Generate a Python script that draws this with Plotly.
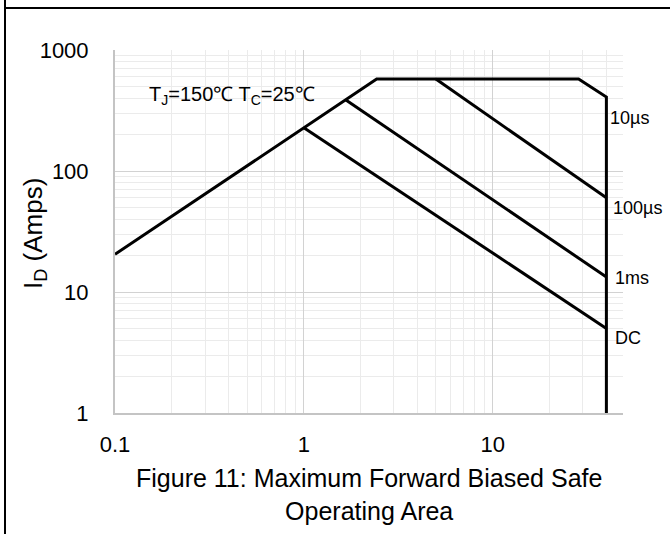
import plotly.graph_objects as go

# ---- data ----
# Safe-operating-area boundary (R_DS(on) ramp, current limit, 10 µs power line, BV_DSS limit)
boundary_v = [0.1, 2.43, 28.5, 40, 40]
boundary_i = [20.5, 575, 575, 409, 1]
# Pulse / DC limit lines
dc_v = [1.0, 40]
dc_i = [228, 5.0]
ms1_v = [1.67, 40]
ms1_i = [386, 13.3]
us100_v = [5.0, 40]
us100_i = [575, 60]

x_tickvals = [0.1, 1, 10]
x_ticktext = ["0.1", "1", "10"]
y_tickvals = [1, 10, 100, 1000]
y_ticktext = ["1", "10", "100", "1000"]

curve_labels = ["10µs", "100µs", "1ms", "DC"]

FONT = "Liberation Sans"

fig = go.Figure()
for xs, ys in [(boundary_v, boundary_i), (dc_v, dc_i), (ms1_v, ms1_i), (us100_v, us100_i)]:
    fig.add_trace(go.Scatter(x=xs, y=ys, mode="lines",
                             line=dict(color="black", width=3),
                             showlegend=False, hoverinfo="skip"))

W, H = 670, 534
L, R, T, B = 115, 47, 50, 121
pw, ph = W - L - R, H - T - B


def px(xp):
    return (xp - L) / pw


def py(yp):
    return (H - B - yp) / ph


axis_common = dict(
    type="log",
    showgrid=True, gridcolor="#d2d2d2", gridwidth=1,
    showline=True, linecolor="#c4c4c4", linewidth=2,
    ticks="", zeroline=False,
    tickfont=dict(family=FONT, size=22, color="black"),
    minor=dict(showgrid=True, gridcolor="#ebebeb", gridwidth=1, dtick="D1"),
)

fig.update_xaxes(**axis_common, range=[-1, 1.69], tickvals=x_tickvals,
                 ticktext=x_ticktext, ticklabelstandoff=11)
fig.update_yaxes(**axis_common, range=[0, 3], tickvals=y_tickvals,
                 ticktext=y_ticktext, ticklabelstandoff=20)

annotations = []
label_pos = [(608, 118), (611, 208), (613, 278), (613, 338)]
for text, (lx, ly) in zip(curve_labels, label_pos):
    annotations.append(dict(text=text, xref="paper", yref="paper",
                            x=px(lx), y=py(ly), xanchor="left", yanchor="middle",
                            showarrow=False,
                            font=dict(family=FONT, size=18, color="black")))
annotations.append(dict(text="T<sub>J</sub>=150℃ T<sub>C</sub>=25℃", xref="paper", yref="paper",
                        x=px(147), y=py(96), xanchor="left", yanchor="middle",
                        showarrow=False, font=dict(family=FONT, size=20, color="black")))
annotations.append(dict(text="I<sub>D</sub> (Amps)", xref="paper", yref="paper",
                        x=px(34), y=py(234), xanchor="center", yanchor="middle",
                        textangle=-90, showarrow=False,
                        font=dict(family=FONT, size=26, color="black")))
annotations.append(dict(text="Figure 11: Maximum Forward Biased Safe<br>Operating Area",
                        xref="paper", yref="paper", x=px(369), y=py(494),
                        xanchor="center", yanchor="middle", showarrow=False,
                        font=dict(family=FONT, size=25, color="black")))

shapes = [
    dict(type="line", xref="paper", yref="paper", x0=px(5), x1=px(5), y0=py(0), y1=py(H),
         line=dict(color="black", width=2)),
    dict(type="line", xref="paper", yref="paper", x0=px(5), x1=px(W), y0=py(8), y1=py(8),
         line=dict(color="black", width=2)),
]

fig.update_layout(
    width=W, height=H,
    margin=dict(l=L, r=R, t=T, b=B),
    paper_bgcolor="white", plot_bgcolor="white",
    annotations=annotations, shapes=shapes,
    font=dict(family=FONT, color="black"),
)

fig.write_html("out.html")
